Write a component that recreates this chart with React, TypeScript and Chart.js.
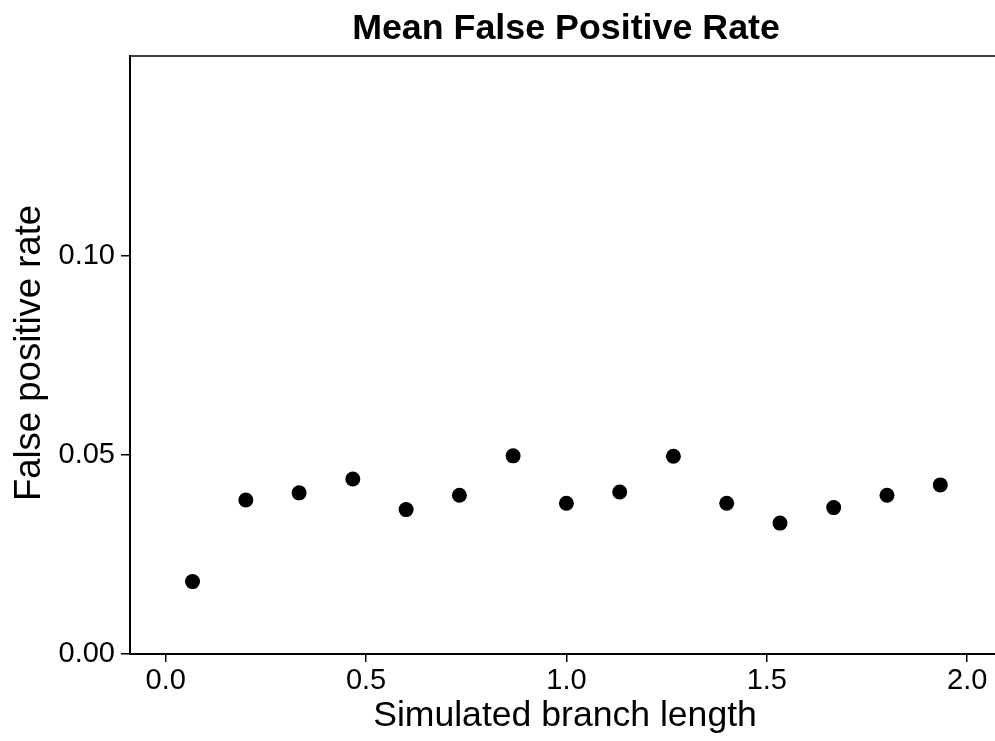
import { useEffect, useRef } from "react";
import { Chart, registerables } from "chart.js";

Chart.register(...registerables);

const branchLength = [0.067, 0.2, 0.333, 0.467, 0.6, 0.733, 0.867, 1.0, 1.133, 1.267, 1.4, 1.533, 1.667, 1.8, 1.933];
const falsePositiveRate = [0.0182, 0.0387, 0.0405, 0.044, 0.0363, 0.0399, 0.0498, 0.0379, 0.0407, 0.0497, 0.0379, 0.0329, 0.0368, 0.0399, 0.0425];
const xTickValues = [0, 0.5, 1.0, 1.5, 2.0];
const yTickValues = [0, 0.05, 0.1];
const chartTitle = "Mean False Positive Rate";
const xTitle = "Simulated branch length";
const yTitle = "False positive rate";

const FONT = "'Liberation Sans', Arial, Helvetica, sans-serif";

export default function App() {
  const ref = useRef<HTMLCanvasElement>(null);

  useEffect(() => {
    const canvas = ref.current!;
    const decor = {
      id: "decor",
      afterDraw(chart: any) {
        const { ctx, chartArea } = chart;
        ctx.save();
        ctx.strokeStyle = "#000";
        ctx.lineWidth = 1.5;
        ctx.beginPath();
        ctx.moveTo(chartArea.left - 1, chartArea.top);
        ctx.lineTo(chartArea.right, chartArea.top);
        ctx.stroke();
        ctx.fillStyle = "#000";
        ctx.textAlign = "center";
        ctx.textBaseline = "alphabetic";
        ctx.font = `bold 35.8px ${FONT}`;
        ctx.fillText(chartTitle, 566, 39);
        ctx.font = `35.6px ${FONT}`;
        ctx.fillText(xTitle, 565, 726);
        ctx.translate(30, 353);
        ctx.rotate(-Math.PI / 2);
        ctx.textBaseline = "middle";
        ctx.font = `36.5px ${FONT}`;
        ctx.fillText(yTitle, 0, 0);
        ctx.restore();
      },
    };

    const chart = new Chart(canvas, {
      type: "scatter",
      data: {
        datasets: [
          {
            data: branchLength.map((x, i) => ({ x, y: falsePositiveRate[i] })),
            backgroundColor: "#000",
            borderColor: "#000",
            borderWidth: 0,
            pointRadius: 7.5,
            pointHoverRadius: 7.5,
          },
        ],
      },
      options: {
        animation: false,
        responsive: false,
        events: [],
        layout: { padding: { top: 56, left: 0, right: 0, bottom: 0 } },
        plugins: { legend: { display: false }, tooltip: { enabled: false }, title: { display: false } },
        scales: {
          x: {
            type: "linear",
            min: -0.089,
            max: 2.0882,
            afterBuildTicks: (s: any) => {
              s.ticks = xTickValues.map((v) => ({ value: v }));
            },
            afterFit: (s: any) => {
              s.height = 87;
            },
            ticks: {
              callback: (v: any) => Number(v).toFixed(1),
              font: { family: FONT, size: 29 },
              color: "#000",
              padding: 2,
              maxRotation: 0,
              autoSkip: false,
            },
            grid: { display: true, drawOnChartArea: false, drawTicks: true, tickLength: 8, color: "#000", lineWidth: 1.5 },
            border: { display: true, color: "#000", width: 2 },
          },
          y: {
            type: "linear",
            min: 0,
            max: 0.1503,
            afterBuildTicks: (s: any) => {
              s.ticks = yTickValues.map((v) => ({ value: v }));
            },
            afterFit: (s: any) => {
              s.width = 130;
            },
            ticks: {
              callback: (v: any) => Number(v).toFixed(2),
              font: { family: FONT, size: 29 },
              color: "#000",
              padding: 6,
              autoSkip: false,
            },
            grid: { display: true, drawOnChartArea: false, drawTicks: true, tickLength: 9, color: "#000", lineWidth: 1.5 },
            border: { display: true, color: "#000", width: 2 },
          },
        },
      },
      plugins: [decor],
    });
    return () => chart.destroy();
  }, []);

  return (
    <div style={{ position: "absolute", left: 0, top: 0, width: 995, height: 741, overflow: "hidden", background: "#fff" }}>
      <canvas ref={ref} width={1010} height={741} style={{ display: "block" }} />
    </div>
  );
}
